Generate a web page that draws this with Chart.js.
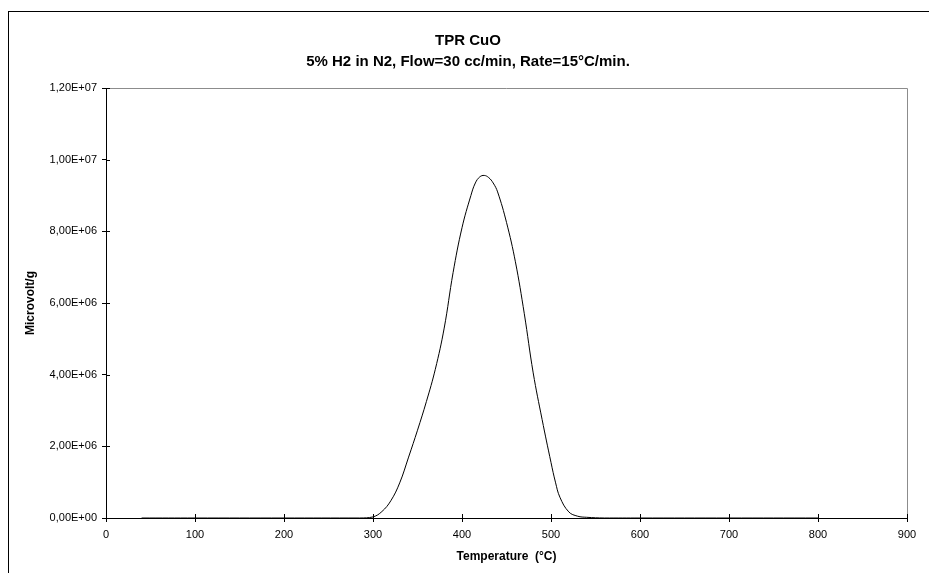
<!DOCTYPE html>
<html>
<head>
<meta charset="utf-8">
<script src="https://cdn.jsdelivr.net/npm/chart.js@4.4.1/dist/chart.umd.min.js"></script>
<style>
  html, body { margin: 0; padding: 0; background: #fff; overflow: hidden; }
  #wrap { position: relative; width: 929px; height: 573px; }
  #frame { position: absolute; left: 8px; top: 11px; width: 1200px; height: 900px; border: 1px solid #000; }
  #tpr { position: absolute; left: 0; top: 0; }
</style>
</head>
<body>
<div id="wrap">
  <div id="frame"></div>
  <canvas id="tpr" width="929" height="573"></canvas>
</div>
<script>
// temperature (°C) and signal (Microvolt/g)
const temperature = [40, 100, 200, 285, 300, 310, 320, 330, 340, 350, 360, 370, 380, 390, 400, 410, 415, 420, 425, 430, 435, 440, 450, 460, 470, 480, 490, 500, 505, 510, 520, 530, 540, 560, 600, 700, 800];
const signal = [0, 0, 0, 0, 0.03e6, 0.18e6, 0.48e6, 0.98e6, 1.7e6, 2.45e6, 3.25e6, 4.15e6, 5.3e6, 6.85e6, 8.1e6, 9.0e6, 9.35e6, 9.52e6, 9.56e6, 9.5e6, 9.35e6, 9.1e6, 8.25e6, 7.15e6, 5.7e6, 4.05e6, 2.75e6, 1.55e6, 1.0e6, 0.58e6, 0.17e6, 0.05e6, 0.02e6, 0, 0, 0, 0];

const xTicks = [0, 100, 200, 300, 400, 500, 600, 700, 800, 900];
const yTicks = [0, 2e6, 4e6, 6e6, 8e6, 10e6, 12e6];
const yTickLabels = ["0,00E+00", "2,00E+06", "4,00E+06", "6,00E+06", "8,00E+06", "1,00E+07", "1,20E+07"];

const titleLines = ["TPR CuO", "5% H2 in N2, Flow=30 cc/min, Rate=15°C/min."];

const FONT = "'Liberation Sans', Arial, sans-serif";

const points = temperature.map((t, i) => ({ x: t, y: signal[i] }));

// Excel style frame: gray top/right edges, ticks crossing the axes
const framePlugin = {
  id: "frame",
  afterDatasetsDraw(chart) {
    const { ctx, chartArea: a, scales } = chart;
    ctx.save();
    ctx.lineWidth = 1;
    ctx.strokeStyle = "#8c8c8c";
    ctx.beginPath();
    ctx.moveTo(a.left, a.top + 0.5);
    ctx.lineTo(a.right + 0.5, a.top + 0.5);
    ctx.lineTo(a.right + 0.5, a.bottom);
    ctx.stroke();

    ctx.strokeStyle = "#000";
    ctx.beginPath();
    xTicks.forEach((v) => {
      const px = Math.round(scales.x.getPixelForValue(v)) + 0.5;
      ctx.moveTo(px, a.bottom);
      ctx.lineTo(px, a.bottom - 4);
    });
    yTicks.forEach((v) => {
      const py = Math.round(scales.y.getPixelForValue(v)) + 0.5;
      ctx.moveTo(a.left, py);
      ctx.lineTo(a.left + 4, py);
    });
    ctx.stroke();
    ctx.restore();
  },
};

new Chart(document.getElementById("tpr"), {
  type: "line",
  data: {
    datasets: [
      {
        data: points,
        borderColor: "#000",
        borderWidth: 1,
        pointRadius: 0,
        fill: false,
        tension: 0.4,
      },
    ],
  },
  options: {
    responsive: false,
    animation: false,
    layout: { padding: { left: 9, right: 2, top: 0, bottom: 0 } },
    plugins: {
      legend: { display: false },
      tooltip: { enabled: false },
      title: {
        display: true,
        text: titleLines,
        color: "#000",
        font: { family: FONT, size: 15, weight: "bold", lineHeight: 1.4 },
        padding: { top: 30, bottom: 16 },
      },
    },
    scales: {
      x: {
        type: "linear",
        min: 0,
        max: 900,
        afterBuildTicks(scale) {
          scale.ticks = xTicks.map((v) => ({ value: v }));
        },
        afterFit(scale) {
          scale.height = 55;
        },
        border: { color: "#000", width: 1 },
        grid: { drawOnChartArea: false, drawTicks: true, tickLength: 4, color: "#000" },
        ticks: {
          color: "#000",
          font: { family: FONT, size: 11 },
          padding: 6,
          maxRotation: 0,
        },
        title: {
          display: true,
          text: "Temperature  (°C)",
          color: "#000",
          font: { family: FONT, size: 12, weight: "bold" },
          padding: { top: 0, bottom: 9 },
        },
      },
      y: {
        type: "linear",
        min: 0,
        max: 12e6,
        afterBuildTicks(scale) {
          scale.ticks = yTicks.map((v) => ({ value: v }));
        },
        afterFit(scale) {
          scale.width = 97;
        },
        border: { color: "#000", width: 1 },
        grid: { drawOnChartArea: false, drawTicks: true, tickLength: 4, color: "#000" },
        ticks: {
          color: "#000",
          font: { family: FONT, size: 11 },
          padding: 5,
          callback: (v, i) => yTickLabels[i],
        },
        title: {
          display: true,
          text: "Microvolt/g",
          color: "#000",
          font: { family: FONT, size: 12, weight: "bold" },
          padding: { top: 14, bottom: 0 },
        },
      },
      // empty right axis, only reserves the space right of the plot
      y2: {
        position: "right",
        display: true,
        afterFit(scale) {
          scale.width = 20;
        },
        border: { display: false },
        grid: { display: false, drawTicks: false },
        ticks: { display: false },
      },
    },
  },
  plugins: [framePlugin],
});
</script>
</body>
</html>
